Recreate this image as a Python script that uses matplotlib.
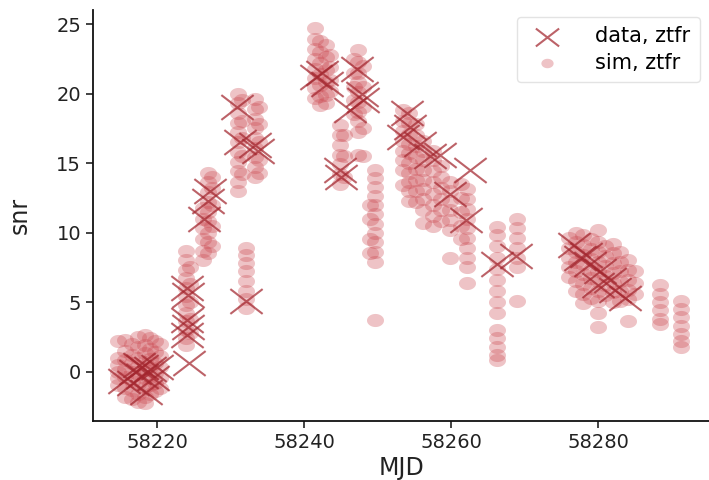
import numpy as np
import matplotlib
matplotlib.use("Agg")
import matplotlib.pyplot as plt
from matplotlib.path import Path

# ---- observed light curve (ZTF r band) ----
data_mjd = [58215.5, 58216.8, 58217.0, 58217.5, 58218.0, 58218.0, 58218.5, 58219.0, 58219.5, 58220.0,
            58224.1, 58224.2, 58224.1, 58224.2, 58224.1, 58224.3,
            58226.4, 58227.0, 58227.2,
            58230.9, 58231.3, 58232.1, 58233.3, 58233.7,
            58241.7, 58242.4, 58243.1, 58244.9, 58245.1, 58246.3, 58247.2, 58247.9, 58248.0,
            58253.5, 58254.0, 58254.4, 58255.8, 58257.1, 58258.5, 58259.9, 58262.1, 58262.6, 58266.2, 58268.9,
            58276.7, 58277.6, 58278.4, 58278.9, 58280.0, 58280.3, 58281.6, 58282.3, 58283.7]
data_snr = [-0.7, -0.8, 0.0, 0.5, 0.3, -0.3, -1.5, 0.2, -0.5, 0.3,
            6.0, 5.5, 3.7, 3.2, 2.6, 0.6,
            11.0, 12.3, 13.0,
            19.0, 16.5, 5.1, 16.3, 15.9,
            21.2, 21.5, 20.7, 14.5, 14.0, 18.8, 21.8, 20.0, 19.5,
            16.9, 18.6, 17.6, 16.4, 15.5, 15.6, 12.8, 10.9, 14.5, 7.7, 8.3,
            9.1, 8.2, 8.4, 7.7, 6.2, 7.2, 6.6, 5.9, 5.3]

# ---- simulated light curves, one column of realisations per epoch ----
sim_epochs = [58214.7, 58215.6, 58216.6, 58217.4, 58218.4, 58219.0, 58219.7, 58220.4,
              58224.0, 58224.5,
              58226.3, 58227.0, 58227.5,
              58231.0, 58231.6, 58232.1, 58233.4, 58233.9,
              58241.5, 58242.2, 58243.0, 58243.6,
              58244.9, 58245.4, 58246.8, 58247.3, 58248.0, 58249.0, 58249.7,
              58253.5, 58254.3, 58255.3, 58256.2, 58257.5, 58258.7, 58259.9, 58261.3, 58262.2,
              58266.3, 58269.0,
              58276.0, 58277.0, 58278.0, 58279.0, 58280.0, 58281.0, 58282.0, 58283.0, 58284.1, 58285.0,
              58288.4, 58291.3]
sim_snr = [
    [0.5, 0.0, -0.5, -1.0, 1.0, 2.2],
    [1.5, 0.8, 0.2, -0.4, -1.2, -1.8, 2.3],
    [2.0, 1.2, 0.6, 0.0, -0.7, -1.3, -2.0],
    [2.5, 1.8, 1.0, 0.4, -0.2, -0.9, -1.6, -2.2],
    [2.6, 1.9, 1.3, 0.7, 0.1, -0.5, -1.1, -1.8, -2.3],
    [2.4, 1.6, 0.9, 0.3, -0.4, -1.0, -1.6],
    [2.2, 1.4, 0.6, -0.1, -0.8, -1.4],
    [2.0, 1.1, 0.3, -0.5, -1.2],
    [8.7, 8.0, 7.3, 6.7, 6.0, 5.4, 4.8, 4.2, 3.6, 3.0, 2.4, 1.9],
    [7.5, 6.3, 5.0, 3.8, 2.8],
    [11.8, 11.0, 10.3, 9.5, 8.7, 8.0],
    [14.3, 13.6, 12.9, 12.2, 11.5, 10.8, 10.0, 9.3, 8.5],
    [14.0, 13.2, 12.0, 10.5, 9.0],
    [20.0, 19.3, 18.6, 17.9, 17.2, 16.5, 15.8, 15.1, 14.4, 13.6, 13.0],
    [19.5, 18.0, 16.8, 15.5, 14.2],
    [8.9, 8.4, 7.8, 7.2, 6.5, 5.8, 5.2, 4.6],
    [19.6, 18.9, 18.2, 17.5, 16.8, 16.1, 15.4, 14.7, 14.0],
    [19.0, 17.8, 16.5, 15.2, 14.3],
    [24.7, 23.9, 23.2, 22.5, 21.8, 21.1, 20.4, 19.7],
    [23.8, 23.0, 22.2, 21.4, 20.6, 19.8, 19.2],
    [23.5, 22.6, 21.7, 20.8, 19.9, 19.3],
    [22.8, 21.9, 21.0, 20.2],
    [17.7, 17.0, 16.3, 15.6, 14.9, 14.2, 13.5],
    [17.0, 15.5, 14.0],
    [22.5, 21.5, 20.5, 19.5, 18.5],
    [23.1, 22.3, 21.5, 20.8, 20.1, 19.4, 18.7, 18.0, 17.2, 15.6],
    [22.0, 20.5, 19.0, 17.5, 15.5],
    [12.0, 11.0, 9.5, 8.5],
    [14.5, 13.9, 13.3, 12.6, 12.0, 11.3, 10.6, 10.0, 9.3, 8.6, 7.9, 3.7],
    [18.8, 18.0, 17.3, 16.6, 15.9, 15.2, 14.5, 13.4],
    [18.6, 17.9, 17.1, 16.4, 15.7, 15.0, 14.3, 13.6, 13.0, 12.3],
    [17.8, 17.0, 16.2, 15.4, 14.6, 13.8, 13.0, 12.2],
    [16.6, 15.9, 15.2, 14.5, 13.8, 13.1, 12.4, 11.6, 10.7],
    [15.9, 15.2, 14.4, 13.6, 12.8, 12.0, 11.2, 10.5],
    [14.8, 14.0, 13.2, 12.4, 11.6, 10.8],
    [13.6, 13.0, 12.3, 11.6, 10.9, 10.2, 8.2],
    [13.5, 12.5, 11.5, 10.5, 9.5],
    [13.1, 12.4, 11.7, 11.0, 10.3, 9.6, 8.9, 8.2, 7.5, 6.4],
    [10.4, 9.8, 9.0, 8.2, 7.4, 6.6, 5.8, 5.0, 4.2, 3.0, 2.4, 1.8, 1.2, 0.8],
    [11.0, 10.3, 9.6, 8.9, 8.2, 7.5, 5.1],
    [9.6, 8.9, 8.2, 7.5, 6.8],
    [10.0, 9.3, 8.6, 7.9, 7.2, 6.5, 5.8],
    [9.8, 9.1, 8.4, 7.7, 7.0, 6.3, 5.6, 4.9],
    [9.5, 8.8, 8.1, 7.4, 6.7, 6.0, 5.3],
    [10.2, 9.3, 8.6, 7.9, 7.2, 6.5, 5.8, 5.1, 4.2, 3.2],
    [9.0, 8.3, 7.6, 6.9, 6.2, 5.5],
    [9.2, 8.5, 7.8, 7.1, 6.4, 5.7, 5.0],
    [8.6, 7.9, 7.2, 6.5, 5.8, 5.1],
    [8.0, 7.3, 6.6, 5.9, 5.2, 3.6],
    [7.2, 6.4, 5.6],
    [6.2, 5.6, 5.0, 4.4, 3.8, 3.4],
    [5.1, 4.5, 3.9, 3.3, 2.7, 2.2, 1.8],
]

sim_x = np.concatenate([[m] * len(v) for m, v in zip(sim_epochs, sim_snr)])
sim_y = np.concatenate(sim_snr)

# slightly wide markers (ellipse and a wide cross)
t = np.linspace(0, 2 * np.pi, 64)
ellipse = Path(np.column_stack([1.3 * np.cos(t), np.sin(t)]), closed=True)
wide_x = Path([(-1.3, -1), (1.3, 1), (-1.3, 1), (1.3, -1)],
              [Path.MOVETO, Path.LINETO, Path.MOVETO, Path.LINETO])

fig = plt.figure(figsize=(7.09, 4.80), dpi=100)
ax = fig.add_axes([0.1312, 0.1229, 0.8688, 0.856])

ax.scatter(data_mjd, data_snr, marker=wide_x, s=540, color="#a3262e",
           alpha=0.72, linewidths=1.5, label="data, ztfr", zorder=3)
ax.scatter(sim_x, sim_y, marker=ellipse, s=150, color="#cc4a52",
           alpha=0.33, linewidths=0, label="sim, ztfr", zorder=2)

ax.set_xlim(58211.3, 58295.1)
ax.set_ylim(-3.56, 26.0)
ax.set_xticks([58220, 58240, 58260, 58280])
ax.set_yticks([0, 5, 10, 15, 20, 25])
ax.tick_params(labelsize=14, length=5, width=1.2, colors="#222222")
ax.set_xlabel("MJD", fontsize=17, color="#222222", labelpad=3)
ax.set_ylabel("snr", fontsize=17, color="#222222", labelpad=18)
for side in ("top", "right"):
    ax.spines[side].set_visible(False)
for side in ("left", "bottom"):
    ax.spines[side].set_linewidth(1.3)
    ax.spines[side].set_color("#111111")

leg = ax.legend(loc="upper right", fontsize=15, frameon=True, markerscale=0.72,
                bbox_to_anchor=(0.985, 0.983), borderaxespad=0,
                handlelength=2.0, handletextpad=1.3, borderpad=0.45, labelspacing=0.3)
leg.get_frame().set_edgecolor("#dddddd")

fig.savefig("out.png", dpi=100)
